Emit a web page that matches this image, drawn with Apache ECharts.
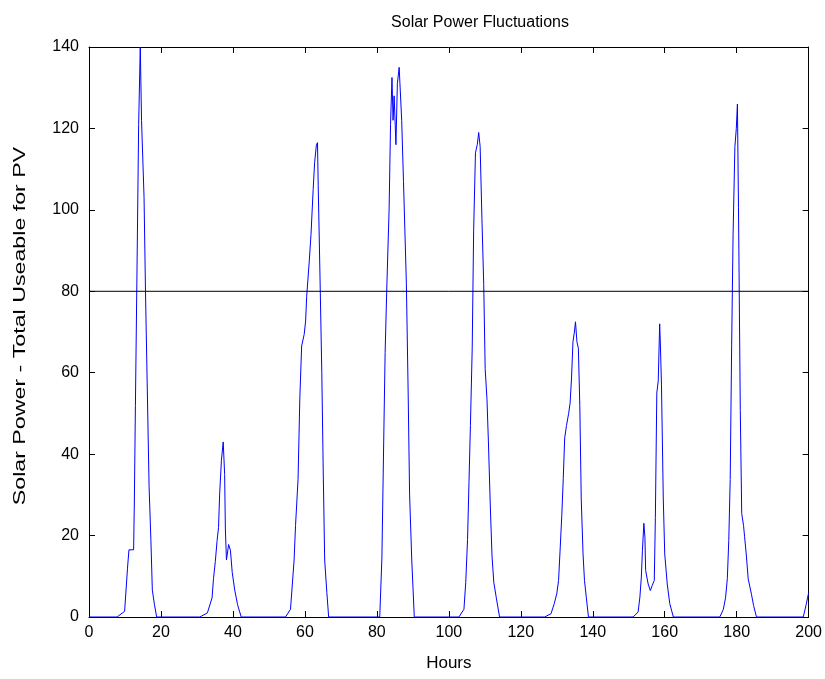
<!DOCTYPE html>
<html><head><meta charset="utf-8">
<script src="https://cdn.jsdelivr.net/npm/echarts@6/dist/echarts.min.js"></script>
<style>html,body{margin:0;padding:0;background:#fff}#c{width:825px;height:679px}</style>
</head><body><div id="c"></div>
<script>
// Solar power readings (hours, value)
const hours = [0,
 7.8,9.9,10.7,11.1,12.4,12.6,12.9,13.3,13.8,14.25,14.6,15.3,15.7,16.2,16.7,17.2,17.6,18.2,18.8,
 30.8,32.9,34.2,34.6,35.1,35.6,36.0,36.3,36.8,37.3,37.7,37.9,38.2,38.8,39.3,39.8,40.5,41.3,42.3,
 54.6,56.0,57.0,57.4,58.1,58.6,59.1,59.8,60.2,60.5,61.2,61.7,62.3,62.7,63.2,63.5,63.7,64.2,64.7,65.1,65.5,66.1,66.6,
 80.8,81.4,81.9,82.3,82.8,83.4,83.8,84.2,84.5,84.8,85.3,85.7,86.2,86.9,87.4,88.2,88.7,89.1,89.7,90.4,
 102.8,104.2,104.7,105.2,105.6,106.0,106.5,106.9,107.4,107.9,108.3,108.7,109.2,109.7,110.1,110.6,111.0,111.5,112.0,112.5,113.2,114.1,
 126.6,128.4,129.3,130.0,130.5,130.9,131.4,131.8,132.2,132.7,133.3,133.7,134.1,134.5,134.9,135.2,135.6,136.0,136.4,136.8,137.3,137.7,138.2,138.8,
 151.2,152.6,153.1,153.5,153.8,154.2,154.5,154.7,155.4,156.0,156.5,157.1,157.4,157.8,158.2,158.6,158.8,159.1,159.6,160.0,160.7,161.4,162.4,
 175.3,176.3,176.9,177.4,177.8,178.2,178.6,179.0,179.5,179.9,180.2,180.5,181.0,181.4,181.9,182.2,182.7,183.2,184.1,184.7,185.5,
 198.5,199.3,200];
const power = [0,
 0,1.4,12,16.5,16.5,28,52,82,121,140,122,103,80,56,32,19,6.6,3,0,
 0,1,4.7,9.4,13.6,18.8,22,30,38.5,43,35,21.6,14,17.8,16.4,11,6.6,3,0,
 0,1.9,14,22.5,33.8,54,66.6,69.4,72.7,78.8,87.2,94,105,111.6,116,116.5,106,83.5,60,35.6,14,6,0,
 0,14.5,43,65,82,100,121,132.5,122,128,116,131,135,122,107,82,55,30,14,0,
 0,1.9,8.5,19,33,47,66,95,114,116,119,115.6,97.8,81.7,61,53.6,43,28,15,8.5,4.7,0,
 0,0.8,3.3,5.7,9,16,25,34,44,47,50,52.5,58.7,67.6,70,72.5,67.6,66,52,29,15.5,9,4.9,0,
 0,1.2,4.9,9.8,16.3,23,19.5,11.4,8.1,6.5,7.7,9,24.4,55,58,72,66.8,57,29,15.5,8.1,3.3,0,
 0,1.9,4.7,9.4,18.8,33.8,66.6,94,115.5,120,126,100.5,50.7,25.4,22.5,19.7,15,9.4,5.6,2.8,0,
 0,3,6];
const thresholdHours = [0, 200];
const thresholdPower = [80, 80];
const xTickStep = 20;
const yTickStep = 20;
const titleText = 'Solar Power Fluctuations';
const xLabel = 'Hours';
const yLabel = 'Solar Power - Total Useable for PV';

const chart = echarts.init(document.getElementById('c'), null, {renderer: 'canvas'});
const FONT = 'Liberation Sans, Arial, sans-serif';
function axisCommon() {
  return {
    axisLine: {show: true, onZero: false, lineStyle: {color: '#000', width: 1}},
    axisTick: {show: true, inside: true, length: 6, lineStyle: {color: '#000'}},
    splitLine: {show: false}
  };
}
chart.setOption({
  animation: false,
  backgroundColor: '#fff',
  title: {
    text: titleText,
    left: 475, top: 10, textAlign: 'center',
    textStyle: {fontFamily: FONT, fontSize: 16, fontWeight: 'normal', color: '#000'}
  },
  grid: {left: 89, right: 13, top: 47, bottom: 62, containLabel: false},
  graphic: [{
    type: 'text', x: 20, y: 326, rotation: Math.PI / 2, scaleX: 1.45, scaleY: 1.05,
    style: {text: yLabel, font: '16px ' + FONT, fill: '#000', align: 'center', verticalAlign: 'middle'}
  }],
  xAxis: [
    Object.assign({type: 'value', min: 0, max: 200, interval: xTickStep, position: 'bottom',
      name: xLabel, nameLocation: 'middle', nameGap: 38,
      nameTextStyle: {fontFamily: FONT, fontSize: 17, color: '#000'},
      axisLabel: {fontFamily: FONT, fontSize: 16, color: '#000', margin: 8}}, axisCommon()),
    Object.assign({type: 'value', min: 0, max: 200, interval: xTickStep, position: 'top',
      axisLabel: {show: false}}, axisCommon())
  ],
  yAxis: [
    Object.assign({type: 'value', min: 0, max: 140, interval: yTickStep, position: 'left',
      axisLabel: {fontFamily: FONT, fontSize: 16, color: '#000', margin: 10}}, axisCommon()),
    Object.assign({type: 'value', min: 0, max: 140, interval: yTickStep, position: 'right',
      axisLabel: {show: false}}, axisCommon())
  ],
  series: [
    {type: 'line', xAxisIndex: 0, yAxisIndex: 0, showSymbol: false, symbol: 'none',
     lineStyle: {color: '#0000ff', width: 1}, data: hours.map((h, i) => [h, power[i]])},
    {type: 'line', xAxisIndex: 0, yAxisIndex: 0, showSymbol: false, symbol: 'none',
     lineStyle: {color: '#000', width: 1}, data: thresholdHours.map((h, i) => [h, thresholdPower[i]])}
  ]
});
</script></body></html>
